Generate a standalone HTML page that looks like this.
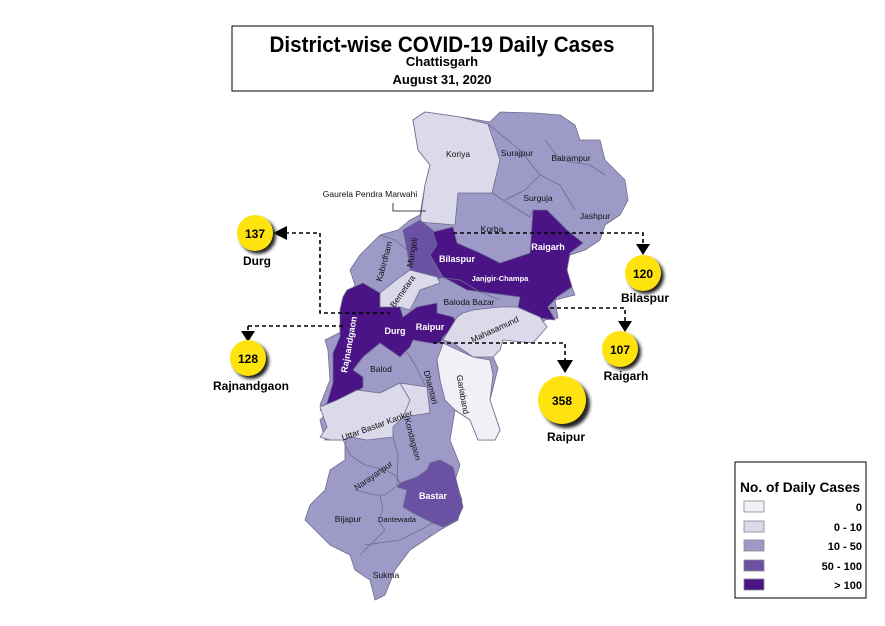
<!DOCTYPE html>
<html><head><meta charset="utf-8"><style>
html,body{margin:0;padding:0;background:#fff}
svg{display:block;font-family:"Liberation Sans",Arial,sans-serif}
</style></head><body>
<svg width="885" height="626" viewBox="0 0 885 626" xmlns="http://www.w3.org/2000/svg">
<defs><filter id="sh" x="-50%" y="-50%" width="200%" height="200%"><feGaussianBlur stdDeviation="1.5"/></filter></defs>
<rect x="232" y="26" width="421" height="65" fill="#fff" stroke="#000" stroke-width="1"/>
<text x="442" y="52" text-anchor="middle" font-size="22" font-weight="bold" textLength="345" lengthAdjust="spacingAndGlyphs">District-wise COVID-19 Daily Cases</text>
<text x="442" y="66" text-anchor="middle" font-size="13" font-weight="bold">Chattisgarh</text>
<text x="442" y="84" text-anchor="middle" font-size="13" font-weight="bold">August 31, 2020</text>

<g stroke="#6f6a8e" stroke-width="0.8" stroke-linejoin="round">
<polygon fill="#9e9ac8" points="413,120 425,112 460,117 490,122 500,112 535,113 560,115 575,125 580,140 600,140 605,160 625,180 628,200 620,215 605,225 600,240 585,250 570,255 565,270 575,295 555,300 558,318 545,320 535,332 520,340 495,340 490,350 498,368 490,400 500,430 495,440 478,440 470,420 455,410 450,440 460,465 455,480 462,500 458,520 440,530 425,540 410,550 395,570 385,595 375,600 370,580 355,570 350,555 330,545 305,520 310,505 325,490 330,470 345,460 345,440 325,440 320,420 330,410 320,405 330,380 328,350 325,340 345,330 345,300 355,285 350,270 360,255 380,235 398,230 410,220 420,215 425,185 430,165 418,150"/>
<polygon fill="#dadaeb" points="413,120 425,112 460,117 488,124 500,160 492,193 458,193 455,225 420,222 425,185 430,165 418,150"/>
<polygon fill="#6a51a3" points="403,230 420,220 435,232 437,245 430,255 443,277 430,282 410,270 407,250"/>
<polygon fill="#4a1486" points="433,232 453,227 457,243 480,253 500,263 530,253 533,210 547,210 555,218 567,230 583,243 570,253 567,270 572,287 557,297 548,307 555,320 540,318 518,307 520,297 467,290 443,277 430,255 437,245"/>
<polygon fill="#4a1486" points="347,290 363,283 380,293 380,307 400,307 403,317 417,307 437,303 437,313 453,317 457,323 443,337 440,343 430,343 413,340 410,347 400,357 380,343 363,357 353,370 363,377 363,387 343,403 333,417 320,410 327,403 333,383 333,367 333,353 340,337 340,310 343,297"/>
<polygon fill="#dadaeb" points="380,293 400,277 410,270 437,277 440,283 420,290 410,310 400,307 380,307"/>
<polygon fill="#dadaeb" points="457,317 463,313 473,310 500,307 517,307 540,317 547,327 533,343 503,340 500,350 493,357 473,357 453,343 443,340"/>
<polygon fill="#f2f0f7" points="443,343 473,357 490,360 493,375 490,400 500,430 495,440 478,440 470,420 455,410 445,400 440,380 437,360"/>
<polygon fill="#dadaeb" points="320,407 337,400 357,390 380,393 400,383 427,387 430,413 403,417 393,427 393,437 367,440 350,437 343,440 330,440 320,437 327,427"/>
<polygon fill="#6a51a3" points="430,463 440,460 453,467 457,483 463,507 457,520 443,527 433,523 413,513 403,507 407,490 397,487 400,483 417,477 427,470"/>
<polyline fill="none" points="492,193 530,217 533,210"/>
<polyline fill="none" points="488,124 520,150 540,175 560,185 575,210"/>
<polyline fill="none" points="545,140 560,160 590,165 605,175"/>
<polyline fill="none" points="540,175 525,190 505,200"/>
<polyline fill="none" points="380,235 395,240 407,250"/>
<polyline fill="none" points="437,277 460,280 480,292 500,300"/>
<polyline fill="none" points="407,352 415,365 425,385"/>
<polyline fill="none" points="400,383 410,400 403,417"/>
<polyline fill="none" points="393,437 398,455 397,487"/>
<polyline fill="none" points="343,440 350,455 365,465 385,470 395,475 400,483"/>
<polyline fill="none" points="355,490 375,495 385,495 395,487"/>
<polyline fill="none" points="380,495 383,510 378,520 385,530 370,545 360,555"/>
<polyline fill="none" points="365,545 400,540 420,530 433,523"/>
<polyline fill="none" points="437,360 440,380"/>
</g>

<g font-size="8.5" fill="#111" text-anchor="middle">
<text x="458" y="157">Koriya</text>
<text x="517" y="156">Surajpur</text>
<text x="571" y="161">Balrampur</text>
<text x="538" y="201">Surguja</text>
<text x="595" y="219">Jashpur</text>
<text x="492" y="232">Korba</text>
<text x="370" y="197">Gaurela Pendra Marwahi</text>
<text x="469" y="305">Baloda Bazar</text>
<text x="381" y="372">Balod</text>
<text transform="translate(387,262) rotate(-75)">Kabirdham</text>
<text transform="translate(415,253) rotate(-80)" fill="#111">Mungeli</text>
<text transform="translate(405,293) rotate(-55)">Bemetara</text>
<text transform="translate(496,332) rotate(-25)">Mahasamund</text>
<text transform="translate(428,388) rotate(75)">Dhamtari</text>
<text transform="translate(460,395) rotate(80)">Gariaband</text>
<text transform="translate(378,428) rotate(-20)">Uttar Bastar Kanker</text>
<text transform="translate(410,440) rotate(75)">Kondagaon</text>
<text transform="translate(375,478) rotate(-35)">Narayanpur</text>
<text x="348" y="522">Bijapur</text>
<text x="397" y="522" font-size="7.5">Dantewada</text>
<text x="386" y="578">Sukma</text>
</g>
<polyline points="393,203 393,211 426,211" fill="none" stroke="#111" stroke-width="0.8"/>
<g font-size="9" font-weight="bold" fill="#fff" text-anchor="middle">
<text x="457" y="262">Bilaspur</text>
<text x="548" y="250">Raigarh</text>
<text x="500" y="281" font-size="7.5">Janjgir-Champa</text>
<text x="395" y="334">Durg</text>
<text x="430" y="330">Raipur</text>
<text x="433" y="499">Bastar</text>
<text transform="translate(352,345) rotate(-80)">Rajnandgaon</text>
</g>

<g fill="none" stroke="#000" stroke-width="1.6" stroke-dasharray="4,3">
<polyline points="285,233 320,233 320,313 390,313"/>
<polyline points="453,233 643,233 643,246"/>
<polyline points="248,326 343,326"/>
<polyline points="248,326 248,332"/>
<polyline points="550,308 625,308 625,322"/>
<polyline points="433,343 565,343 565,362"/>
</g>
<g fill="#000">
<polygon points="273,233 287,226 287,240"/>
<polygon points="636,244 650,244 643,255"/>
<polygon points="241,331 255,331 248,342"/>
<polygon points="618,321 632,321 625,332"/>
<polygon points="557,360 573,360 565,373"/>
</g>
<g>
<circle cx="258" cy="236" r="18" fill="#222" filter="url(#sh)"/>
<circle cx="255" cy="233" r="18" fill="#ffe30f"/>
<circle cx="646" cy="276" r="18" fill="#222" filter="url(#sh)"/>
<circle cx="643" cy="273" r="18" fill="#ffe30f"/>
<circle cx="251" cy="361" r="18" fill="#222" filter="url(#sh)"/>
<circle cx="248" cy="358" r="18" fill="#ffe30f"/>
<circle cx="623" cy="352" r="18" fill="#222" filter="url(#sh)"/>
<circle cx="620" cy="349" r="18" fill="#ffe30f"/>
<circle cx="566" cy="404" r="24" fill="#222" filter="url(#sh)"/>
<circle cx="562" cy="400" r="24" fill="#ffe30f"/>
</g>
<g font-size="12" font-weight="bold" text-anchor="middle" fill="#000">
<text x="255" y="238">137</text>
<text x="643" y="278">120</text>
<text x="248" y="363">128</text>
<text x="620" y="354">107</text>
<text x="562" y="405">358</text>
</g>
<g font-size="12" font-weight="bold" text-anchor="middle" fill="#000">
<text x="257" y="265">Durg</text>
<text x="645" y="302">Bilaspur</text>
<text x="251" y="390">Rajnandgaon</text>
<text x="626" y="380">Raigarh</text>
<text x="566" y="441">Raipur</text>
</g>

<rect x="735" y="462" width="131" height="136" fill="#fff" stroke="#000" stroke-width="1"/>
<text x="800" y="492" text-anchor="middle" font-size="14" font-weight="bold" textLength="120" lengthAdjust="spacingAndGlyphs">No. of Daily Cases</text>
<g stroke="#888" stroke-width="0.8">
<rect x="744" y="501" width="20" height="11" fill="#f2f0f7"/>
<rect x="744" y="521" width="20" height="11" fill="#dadaeb"/>
<rect x="744" y="540" width="20" height="11" fill="#9e9ac8"/>
<rect x="744" y="560" width="20" height="11" fill="#6a51a3"/>
<rect x="744" y="579" width="20" height="11" fill="#4a1486"/>
</g>
<g font-size="11" font-weight="bold" text-anchor="end">
<text x="862" y="511">0</text>
<text x="862" y="531">0 - 10</text>
<text x="862" y="550">10 - 50</text>
<text x="862" y="570">50 - 100</text>
<text x="862" y="589">&gt; 100</text>
</g>
</svg>
</body></html>
